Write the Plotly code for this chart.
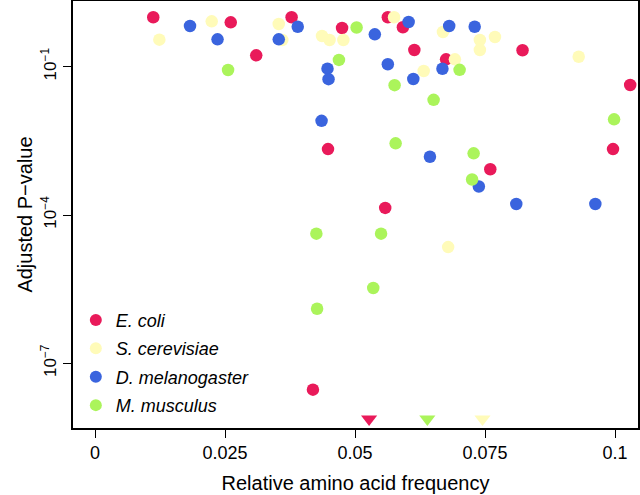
import plotly.graph_objects as go

# ---- data ----
species = ["E. coli", "S. cerevisiae", "D. melanogaster", "M. musculus"]
colors = ["#E91A5A", "#FFFBB9", "#3A64DE", "#ABF45B"]

ecoli_x = [0.0112, 0.0261, 0.0310, 0.0378, 0.0475, 0.0563, 0.0592, 0.0614, 0.0675,
           0.0822, 0.1029, 0.0448, 0.0760, 0.0558, 0.0996, 0.0419]
ecoli_p = [1.0, 0.79, 0.170, 1.0, 0.607, 1.0, 0.627, 0.218, 0.141,
           0.215, 0.0427, 0.00216, 8.43e-4, 1.39e-4, 0.00216, 2.93e-8]

scer_x = [0.01237, 0.02244, 0.03533, 0.0360, 0.04365, 0.0451, 0.04775, 0.0575, 0.0669,
          0.0632, 0.0692, 0.0740, 0.0769, 0.0740, 0.0930, 0.0679]
scer_p = [0.352, 0.828, 0.731, 0.347, 0.418, 0.347, 0.347, 1.0, 0.504,
          0.0818, 0.141, 0.347, 0.399, 0.218, 0.159, 2.25e-5]

dmel_x = [0.01827, 0.02356, 0.03898, 0.03533, 0.0538, 0.0603, 0.0681, 0.0730, 0.0563,
          0.0447, 0.0449, 0.0612, 0.0668, 0.04356, 0.0644, 0.0738, 0.0810, 0.0962]
dmel_p = [0.665, 0.358, 0.644, 0.358, 0.452, 0.802, 0.665, 0.644, 0.112,
          0.0912, 0.0559, 0.0564, 0.0908, 0.00805, 0.00151, 3.78e-4, 1.67e-4, 1.67e-4]

mmus_x = [0.02558, 0.0503, 0.0469, 0.0576, 0.0651, 0.0701, 0.0578, 0.0728, 0.0725,
          0.0998, 0.0550, 0.04256, 0.0535, 0.0427]
mmus_p = [0.0858, 0.621, 0.137, 0.0423, 0.0214, 0.0865, 0.00282, 0.00177, 5.22e-4,
          0.00863, 4.19e-5, 4.19e-5, 3.34e-6, 1.27e-6]

# frequency markers drawn on the bottom edge (triangles)
tri_x = [0.0527, 0.0639, 0.0745]
tri_p = [7.5e-9, 7.5e-9, 7.5e-9]
tri_colors = [colors[0], colors[3], colors[1]]

x_ticks = [0, 0.025, 0.05, 0.075, 0.1]
x_ticklabels = ["0", "0.025", "0.05", "0.075", "0.1"]
y_ticks = [1e-1, 1e-4, 1e-7]
y_ticklabels = ["10<sup>\u22121</sup>", "10<sup>\u22124</sup>", "10<sup>\u22127</sup>"]

x_range = [-0.00423, 0.1044]
y_range_log = [-8.308, 0.329]

FONT = "Liberation Sans, Arial, Helvetica, sans-serif"

fig = go.Figure()
series = [(ecoli_x, ecoli_p), (scer_x, scer_p), (dmel_x, dmel_p), (mmus_x, mmus_p)]
for i, (name, (xs, ps)) in enumerate(zip(species, series)):
    fig.add_trace(go.Scatter(
        x=xs, y=ps, mode="markers", name="<i>" + name + "</i>",
        legendgroup=name,
        marker=dict(color=colors[i], size=12.5, line=dict(width=0)),
    ))

fig.add_trace(go.Scatter(
    x=tri_x, y=tri_p, mode="markers", showlegend=False,
    marker=dict(symbol="triangle-down", color=tri_colors, size=14, line=dict(width=0)),
    cliponaxis=False,
))

fig.update_layout(
    width=640, height=495,
    margin=dict(l=73, r=2, t=1, b=67, pad=0, autoexpand=False),
    paper_bgcolor="white", plot_bgcolor="white",
    font=dict(family=FONT, color="black", size=18),
    showlegend=True,
    legend=dict(
        x=0.005, y=0.01, xanchor="left", yanchor="bottom",
        bgcolor="rgba(0,0,0,0)", font=dict(size=18, family=FONT),
        tracegroupgap=2, itemsizing="constant",
    ),
    xaxis=dict(
        range=x_range, tickvals=x_ticks, ticktext=x_ticklabels,
        showline=True, linecolor="black", linewidth=1.5, mirror=True,
        ticks="outside", ticklen=8, tickwidth=1, tickcolor="black",
        showgrid=False, zeroline=False, automargin=False,
        tickfont=dict(size=18),
        title=dict(text="Relative amino acid frequency", font=dict(size=20), standoff=14),
    ),
    yaxis=dict(
        type="log", range=y_range_log, tickvals=y_ticks, ticktext=y_ticklabels,
        showline=True, linecolor="black", linewidth=1.5, mirror=True,
        ticks="outside", ticklen=8, tickwidth=1, tickcolor="black",
        showgrid=False, zeroline=False, tickangle=-90, automargin=False,
        tickfont=dict(size=17),
        title=dict(text="Adjusted P\u2212value", font=dict(size=20), standoff=0),
    ),
)

fig.write_html("out.html", config={"displayModeBar": False},
               post_script="document.body.style.margin='0';")
